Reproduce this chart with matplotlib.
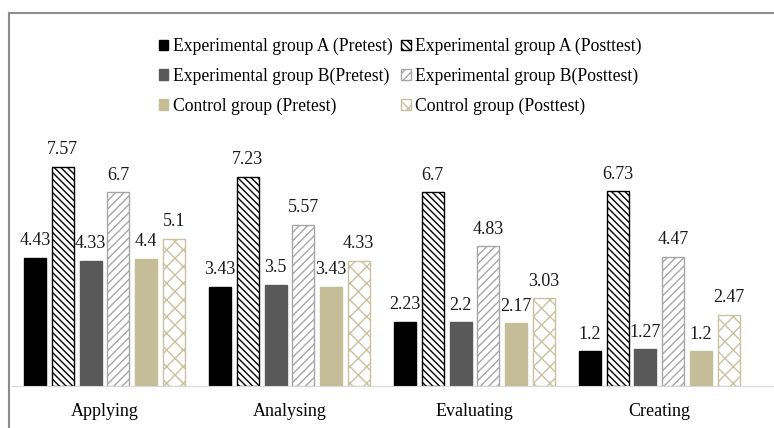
import matplotlib.pyplot as plt
from matplotlib.lines import Line2D
import numpy as np

plt.rcParams['font.family'] = ['Liberation Serif', 'DejaVu Serif']
plt.rcParams['hatch.linewidth'] = 1.0

skills = ['Applying', 'Analysing', 'Evaluating', 'Creating']
labels = ['Experimental group A (Pretest)', 'Experimental group A (Posttest)',
          'Experimental group B(Pretest)', 'Experimental group B(Posttest)',
          'Control group (Pretest)', 'Control group (Posttest)']
exp_a_pre = [4.43, 3.43, 2.23, 1.2]
exp_a_post = [7.57, 7.23, 6.7, 6.73]
exp_b_pre = [4.33, 3.5, 2.2, 1.27]
exp_b_post = [6.7, 5.57, 4.83, 4.47]
ctrl_pre = [4.4, 3.43, 2.17, 1.2]
ctrl_post = [5.1, 4.33, 3.03, 2.47]

series = [exp_a_pre, exp_a_post, exp_b_pre, exp_b_post, ctrl_pre, ctrl_post]
faces = ['#000000', 'white', '#595959', 'white', '#c4bd97', 'white']
hatches = [None, '\\\\\\\\\\', None, '////', None, 'xx']
hcolors = ['#000000', '#000000', '#595959', '#a6a6a6', '#c4bd97', '#c9c1a0']

fig = plt.figure(figsize=(7.74, 4.28), dpi=100)
ax = fig.add_axes([12 / 774, 1 - 386 / 428, 762 / 774, 240 / 428])

x = np.arange(len(skills))
w = 0.119
step = 0.15
handles = []
for i, vals in enumerate(series):
    pos = x + (i - 2.5) * step
    bars = ax.bar(pos, vals, w, color=faces[i], hatch=hatches[i],
                  edgecolor=hcolors[i], linewidth=1.0, label=labels[i])
    handles.append(bars)
    for p, v in zip(pos, vals):
        ax.text(p, v + 0.3, f'{v:g}', ha='center', va='bottom',
                fontsize=13, color='#1a1a1a')

ax.set_xlim(-0.5, 3.62)
ax.set_ylim(0, 8.3)
ax.set_xticks(x)
ax.set_xticklabels(skills, fontsize=13)
ax.tick_params(axis='x', length=0, pad=12)
ax.set_yticks([])
for s in ['top', 'right', 'left']:
    ax.spines[s].set_visible(False)
ax.spines['bottom'].set_color('#d9d9d9')

# legend fills column-wise, so reorder to read row by row
order = [0, 2, 4, 1, 3, 5]
fig.legend([handles[k] for k in order], [labels[k] for k in order],
           loc='upper center', bbox_to_anchor=(0.517, 0.948), ncol=2,
           frameon=False, fontsize=12.7, handlelength=0.55, handleheight=0.55,
           handletextpad=0.25, columnspacing=0.5, labelspacing=0.7)

# outer frame
fig.add_artist(Line2D([9 / 774, 9 / 774], [0, 1 - 13 / 428], color='#8c8c8c',
                      linewidth=1.5, transform=fig.transFigure))
fig.add_artist(Line2D([9 / 774, 1], [1 - 13 / 428, 1 - 13 / 428], color='#8c8c8c',
                      linewidth=1.5, transform=fig.transFigure))

fig.savefig('out.png', dpi=100)
